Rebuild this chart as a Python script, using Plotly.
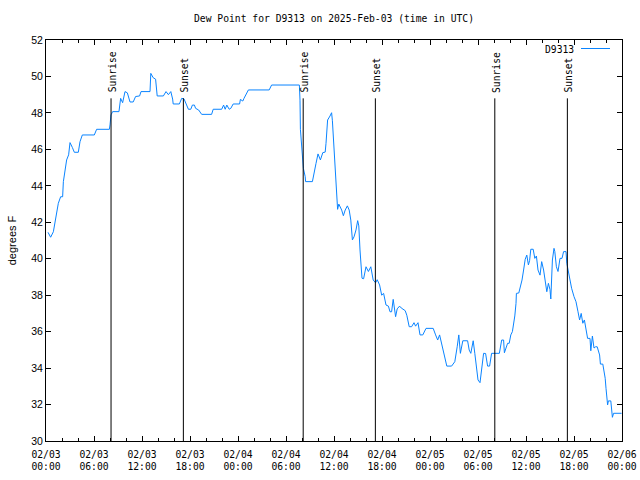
import pandas as pd
import plotly.graph_objects as go

# hours since 2025-02-03 00:00 UTC
hours = [0.25, 0.58, 0.92, 1.2, 1.54, 1.83, 2.08, 2.17, 2.46, 2.58, 2.83, 3.0, 3.29, 3.54, 4.04, 4.25, 4.54, 6.04, 6.33, 7.92,
         8.0, 8.125, 8.33, 9.12, 9.33, 9.58, 9.875, 10.17, 10.5, 10.9, 11.2, 11.7, 11.875, 13.0, 13.1, 13.4, 13.7, 13.9, 14.67, 15.0,
         15.3, 15.6, 15.83, 15.9, 16.67, 16.96, 17.25, 17.58, 17.8, 18.1, 18.3, 18.55, 18.7, 19.08, 19.46, 20.7, 20.9, 21.96, 22.2, 22.4,
         22.6, 22.9, 23.1, 23.4, 24.2, 24.3, 24.6, 24.75, 24.96, 25.3, 27.9, 28.2, 31.67, 31.75, 31.8, 31.96, 32.1, 32.17, 32.4, 32.45,
         33.3, 33.5, 33.75, 34.0, 34.3, 34.6, 34.9, 35.0, 35.2, 35.5, 35.7, 35.8, 36.0, 36.2, 36.35, 36.45, 36.6, 36.96, 37.17, 37.4,
         37.67, 37.9, 38.1, 38.3, 38.5, 38.75, 38.96, 39.1, 39.25, 39.5, 39.7, 40.0, 40.3, 40.6, 40.9, 41.2, 41.4, 41.7, 41.96, 42.2,
         42.5, 42.8, 43.0, 43.2, 43.4, 43.7, 43.9, 44.2, 44.4, 44.9, 45.1, 45.4, 45.7, 46.0, 46.2, 46.5, 46.75, 47.1, 47.5, 48.4,
         48.7, 48.96, 49.2, 49.5, 49.75, 50.1, 50.7, 51.1, 51.4, 51.6, 51.8, 52.1, 52.7, 52.9, 53.1, 53.4, 53.6, 53.8, 54.0, 54.25,
         54.5, 54.7, 54.95, 55.2, 55.45, 55.7, 56.67, 56.8, 56.96, 57.2, 57.3, 57.5, 57.7, 57.9, 58.1, 58.3, 58.5, 58.6, 58.75, 58.8,
         59.1, 59.25, 59.5, 59.7, 59.9, 60.1, 60.3, 60.45, 60.6, 60.9, 61.1, 61.3, 61.5, 61.75, 61.96, 62.2, 62.4, 62.6, 62.8, 63.0,
         63.1, 63.3, 63.5, 63.6, 63.8, 64.0, 64.25, 64.5, 64.7, 65.0, 65.1, 65.3, 65.5, 65.7, 66.0, 66.25, 66.5, 66.7, 66.9, 67.1,
         67.3, 67.5, 67.7, 68.0, 68.1, 68.3, 68.5, 68.7, 68.9, 69.2, 69.3, 69.6, 69.9, 70.0, 70.2, 70.3, 70.6, 70.8, 70.95, 71.95]

dew_point = [41.45, 41.18, 41.48, 42.3, 43.04, 43.4, 43.4, 44.23, 45.14, 45.42, 45.7, 46.37, 46.11, 45.84, 45.84, 46.42, 46.79, 46.79, 47.1, 47.1,
             47.34, 47.89, 48.07, 48.07, 48.8, 48.56, 49.17, 49.1, 48.6, 48.6, 48.9, 48.93, 49.17, 49.17, 50.17, 49.93, 49.85, 48.93, 48.93, 49.17,
             49.0, 49.17, 48.76, 48.49, 48.49, 48.8, 48.77, 48.43, 48.2, 48.2, 48.43, 48.43, 48.25, 48.16, 47.92, 47.92, 48.2, 48.2, 48.43, 48.2,
             48.43, 48.2, 48.25, 48.49, 48.49, 48.74, 48.65, 48.8, 48.98, 49.26, 49.26, 49.53, 49.53, 48.7, 47.1, 46.06, 45.5, 44.96, 44.5, 44.23,
             44.23, 44.77, 45.23, 45.75, 45.42, 45.82, 45.85, 46.33, 47.61, 47.83, 48.01, 47.57, 46.15, 44.5, 43.22, 42.71, 43.0, 42.67, 42.36, 42.67,
             42.9, 42.67, 42.12, 41.03, 41.2, 41.58, 42.09, 41.8, 40.48, 38.93, 38.9, 39.56, 39.3, 39.56, 38.83, 38.68, 38.85, 38.56, 38.0, 38.1,
             37.46, 37.4, 37.09, 37.09, 37.77, 36.82, 37.25, 37.4, 37.3, 37.15, 36.9, 36.27, 36.27, 36.49, 36.3, 36.49, 35.82, 35.82, 36.18, 36.18,
             35.82, 35.54, 35.82, 35.27, 34.81, 34.11, 34.11, 34.35, 35.17, 35.82, 34.81, 35.5, 35.5, 34.99, 34.81, 35.5, 34.81, 33.9, 33.35, 33.2,
             34.11, 34.81, 34.8, 34.11, 34.11, 34.81, 34.81, 35.27, 35.54, 35.54, 34.84, 35.1, 35.36, 35.36, 35.82, 36.0, 36.46, 36.86, 37.55, 38.1,
             38.12, 38.38, 38.83, 39.38, 39.97, 40.2, 39.66, 39.9, 40.52, 40.52, 40.02, 40.15, 39.38, 39.1, 39.84, 39.38, 38.74, 38.19, 38.65, 38.3,
             37.79, 39.93, 40.57, 40.4, 39.56, 39.3, 40.02, 40.02, 40.39, 40.39, 39.75, 39.29, 38.83, 38.38, 37.92, 37.64, 37.09, 36.64, 37.0, 36.46,
             36.64, 36.09, 35.63, 35.63, 34.95, 35.76, 35.1, 35.17, 35.17, 34.72, 34.22, 34.22, 33.44, 32.89, 31.98, 32.2, 32.2, 31.3, 31.52, 31.52]

sun_hours = [8.13, 17.17, 32.15, 41.17, 56.1, 65.17]
sun_labels = ["Sunrise", "Sunset", "Sunrise", "Sunset", "Sunrise", "Sunset"]

start = pd.Timestamp("2025-02-03 00:00")
times = [start + pd.Timedelta(hours=h) for h in hours]
sun_times = [start + pd.Timedelta(hours=h) for h in sun_hours]

MONO = "DejaVu Sans Mono"
SANS = "Liberation Sans"
LINE_COLOR = "#0a84ff"

fig = go.Figure()
fig.add_trace(go.Scatter(x=times, y=dew_point, mode="lines", name="D9313",
                         line=dict(color=LINE_COLOR, width=1), showlegend=False))

for t, lab in zip(sun_times, sun_labels):
    fig.add_shape(type="line", x0=t, x1=t, y0=30, y1=48.8, xref="x", yref="y",
                  line=dict(color="black", width=1))
    fig.add_annotation(x=t, y=49.0, xref="x", yref="y", text=lab, textangle=-90,
                       showarrow=False, xanchor="center", yanchor="bottom", xshift=1,
                       font=dict(family=MONO, size=9.7, color="black"))

# legend (gnuplot style: key text then sample line)
fig.add_annotation(x=(576 - 46) / 576, y=(441 - 49) / 401, xref="paper", yref="paper",
                   text="D9313", showarrow=False, xanchor="right", yanchor="middle",
                   font=dict(family=MONO, size=9.7, color="black"))
fig.add_shape(type="line", xref="paper", yref="paper",
              x0=(581 - 46) / 576, x1=(610 - 46) / 576, y0=(441 - 48.5) / 401, y1=(441 - 48.5) / 401,
              line=dict(color=LINE_COLOR, width=1))

fig.update_layout(
    width=640, height=480,
    margin=dict(l=46, r=18, t=40, b=39, autoexpand=False),
    paper_bgcolor="white", plot_bgcolor="white",
    title=dict(text="Dew Point for D9313 on 2025-Feb-03 (time in UTC)",
               x=0.5, xref="paper", y=1 - 19 / 480, yref="container",
               xanchor="center", yanchor="middle",
               font=dict(family=MONO, size=9.7, color="black")),
    showlegend=False,
)

fig.update_xaxes(
    type="date", automargin=False,
    range=[start, start + pd.Timedelta(hours=72)],
    tick0=start, dtick=6 * 3600 * 1000,
    tickformat="%m/%d<br>%H:%M",
    ticks="inside", ticklen=5, tickcolor="black", tickwidth=1,
    minor=dict(dtick=2 * 3600 * 1000, tick0=start, ticks="inside", ticklen=3,
               tickcolor="black", showgrid=False),
    showline=True, linecolor="black", linewidth=1, mirror="allticks",
    showgrid=False, zeroline=False,
    ticklabelstandoff=4,
    tickfont=dict(family=MONO, size=9.7, color="black"),
)

fig.update_yaxes(
    range=[30, 52], dtick=2, tick0=30, automargin=False,
    ticks="inside", ticklen=5, tickcolor="black", tickwidth=1,
    showline=True, linecolor="black", linewidth=1, mirror="allticks",
    showgrid=False, zeroline=False,
    tickfont=dict(family=SANS, size=10.5, color="black"),
    title=dict(text="degrees F", font=dict(family=SANS, size=11, color="black"), standoff=12),
)

fig.write_html("out.html")
